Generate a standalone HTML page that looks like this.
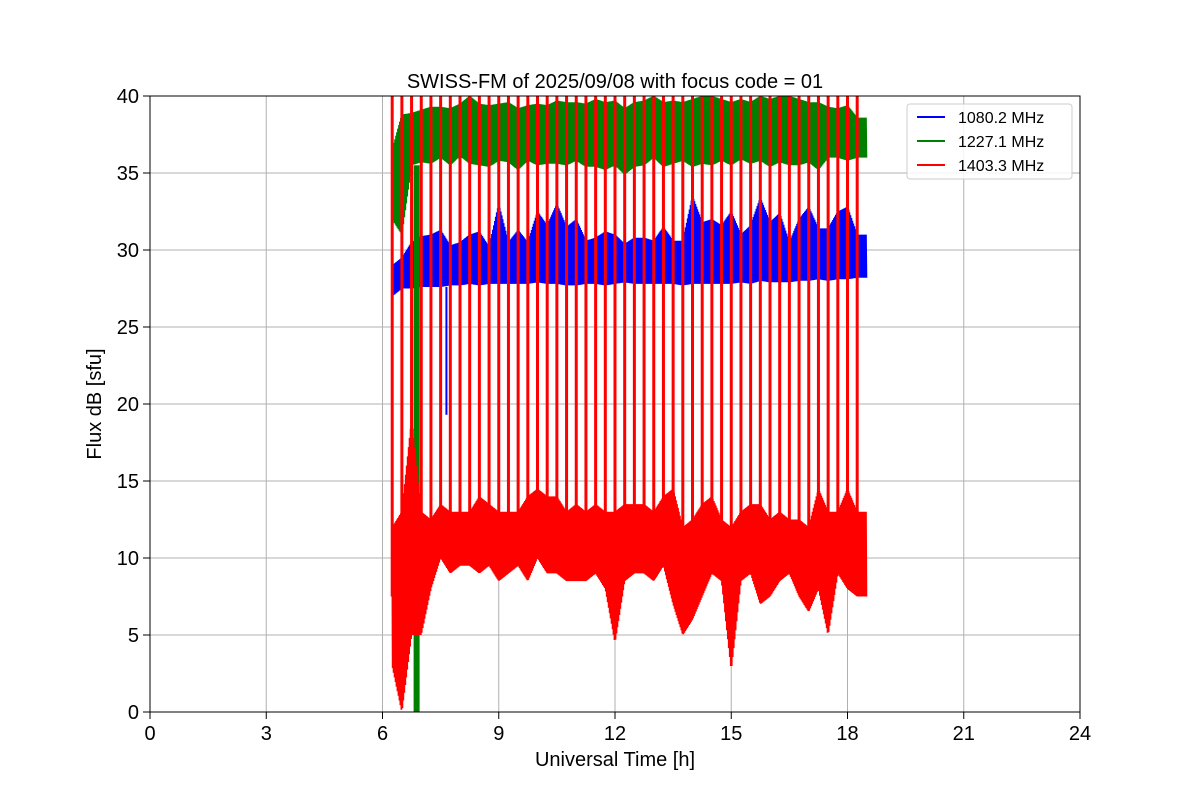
<!DOCTYPE html>
<html><head><meta charset="utf-8"><style>
body{margin:0;background:#fff}
svg text{font-family:"Liberation Sans","DejaVu Sans",sans-serif}
</style></head><body>
<svg id="chart" width="1200" height="800" xmlns="http://www.w3.org/2000/svg">
<rect width="1200" height="800" fill="#fff"/>
<g id="grid"></g>
<g id="plot"></g>
<rect x="150" y="96" width="930" height="616" fill="none" stroke="#000" stroke-width="1"/>
<g id="ticks"></g>
<text x="615" y="88" text-anchor="middle" font-size="20">SWISS-FM of 2025/09/08 with focus code = 01</text>
<text x="615" y="766" text-anchor="middle" font-size="20">Universal Time [h]</text>
<text x="101" y="404" text-anchor="middle" font-size="20" transform="rotate(-90 101 404)">Flux dB [sfu]</text>
<g>
<rect x="907" y="104" width="165" height="75" rx="3" fill="#fff" fill-opacity="0.85" stroke="#ccc"/>
<line x1="917" y1="117" x2="945" y2="117" stroke="#0000ff" stroke-width="2"/>
<text x="958" y="123" font-size="16">1080.2 MHz</text>
<line x1="917" y1="141" x2="945" y2="141" stroke="#008000" stroke-width="2"/>
<text x="958" y="147" font-size="16">1227.1 MHz</text>
<line x1="917" y1="165" x2="945" y2="165" stroke="#ff0000" stroke-width="2"/>
<text x="958" y="171" font-size="16">1403.3 MHz</text>
</g>
</svg>
<script>
const xTicks=[0,3,6,9,12,15,18,21,24];
const yTicks=[0,5,10,15,20,25,30,35,40];
const binStart=[6.25,6.5,6.75,7,7.25,7.5,7.75,8,8.25,8.5,8.75,9,9.25,9.5,9.75,10,10.25,10.5,10.75,11,11.25,11.5,11.75,12,12.25,12.5,12.75,13,13.25,13.5,13.75,14,14.25,14.5,14.75,15,15.25,15.5,15.75,16,16.25,16.5,16.75,17,17.25,17.5,17.75,18,18.25];
const redLo=[3,0,5,5,8,10,9,9.5,9.5,9,9.5,8.5,9,9.5,8.5,10,9,9,8.5,8.5,8.5,9,8,4.5,8.5,9,9,8.5,9.5,7,5,6,7.5,9,8.5,2.7,8.5,9,7,7.5,8.5,9,7.5,6.5,8,5,9,8,7.5];
const redHi=[12,13,19,13,12.5,13.5,13,13,13,14,13.5,13,13,13,14,14.5,14,14,13,13.5,13,13.5,13,13,13.5,13.5,13.5,13,14,14.5,12,12.5,13.5,14,12.5,12,13,13.5,13.5,12.5,13,12.5,12.5,12,14.5,13,13,14.5,13];
const blueLo=[27,27.5,27.5,27.6,27.6,27.6,27.7,27.7,27.8,27.7,27.8,27.8,27.8,27.8,27.8,27.9,27.8,27.8,27.7,27.7,27.8,27.8,27.7,27.8,27.9,27.8,27.8,27.8,27.8,27.8,27.7,27.8,27.8,27.8,27.8,27.8,27.9,27.8,28,27.9,27.9,27.9,28,28,28.1,28,28.1,28.1,28.2];
const blueHi=[29,29.5,30.5,30.9,31,31.3,30.3,30.5,31,31.2,30.2,33,30.5,31.3,30.5,32.5,31.6,33,31.5,32,30.6,30.8,31.2,31,30.4,30.8,30.8,30.6,31.5,30.6,30.6,33.5,31.8,32,31.6,32.5,31,31.6,33.4,31.8,32.4,30.5,32,32.8,31.4,31.4,32.5,32.8,31];
const greenLo=[32,31,35.5,35.7,35.6,36,35.5,36.1,35.6,35.5,35.4,35.8,35.7,35.2,35.8,35.5,35.6,35.6,35.5,35.8,35.4,35.4,35.2,35.5,34.9,35.4,35.5,36,35.4,35.6,35.8,35.4,35.6,35.5,35.8,35.5,35.9,35.6,35.8,35.4,35.7,35.5,35.5,35.7,35.2,36,36,35.8,36];
const greenHi=[36.5,38.8,38.9,39.1,39.3,39.3,39.2,39.5,40,39.5,39.4,39.5,39.6,39.2,39.4,39.5,39.4,39.7,39.6,39.6,39.5,39.8,39.6,39.7,39.2,39.6,39.7,40,39.6,39.7,39.6,39.8,40,40,39.8,39.6,39.8,39.6,40,39.8,40,40,39.8,39.6,39.6,39.3,39.2,39.4,38.6];
const spikeTimes=[6.25,6.5,6.75,7,7.25,7.5,7.75,8,8.25,8.5,8.75,9,9.25,9.5,9.75,10,10.25,10.5,10.75,11,11.25,11.5,11.75,12,12.25,12.5,12.75,13,13.25,13.5,13.75,14,14.25,14.5,14.75,15,15.25,15.5,15.75,16,16.25,16.5,16.75,17,17.25,17.5,17.75,18,18.25];
const greenDrop={t:6.88,lo:0};
const blueDrop={t:7.65,lo:19.3};
const binWidth=0.25;

const NS="http://www.w3.org/2000/svg";
const X=t=>150+t*930/24;
const Y=v=>712-v*616/40;
const grid=document.getElementById('grid'),plot=document.getElementById('plot'),ticks=document.getElementById('ticks');
function mk(tag,attrs,parent){const e=document.createElementNS(NS,tag);for(const k in attrs)e.setAttribute(k,attrs[k]);parent.appendChild(e);return e;}
xTicks.forEach(t=>{
  const g=mk('line',{x1:X(t),x2:X(t),y1:96,y2:712,stroke:'#b0b0b0','stroke-width':1},grid);
  
  
  const tk=mk('line',{x1:X(t),x2:X(t),y1:712,y2:719,stroke:'#000'},ticks);
  
  
  const l=mk('text',{x:X(t),y:740,'text-anchor':'middle','font-size':20},ticks);l.textContent=t;
  
  
});
yTicks.forEach(v=>{
  const g=mk('line',{x1:150,x2:1080,y1:Y(v),y2:Y(v),stroke:'#b0b0b0','stroke-width':1},grid);
  
  
  const tk=mk('line',{x1:143,x2:150,y1:Y(v),y2:Y(v),stroke:'#000'},ticks);
  
  
  const l=mk('text',{x:139,y:Y(v)+7,'text-anchor':'end','font-size':20},ticks);l.textContent=v;
  
  
});
function band(lo,hi,color,name){
  let pts=[];const sub=20;
  binStart.forEach((t,i)=>{
    for(let k=0;k<sub;k++){
      const tt=t+k*binWidth/sub;
      const f=k/sub;
      const nl=i+1<lo.length?lo[i+1]:lo[i], nh=i+1<hi.length?hi[i+1]:hi[i];
      const l=lo[i]+(nl-lo[i])*f, h=hi[i]+(nh-hi[i])*f;
      pts.push(X(tt).toFixed(1)+','+Y(k%2?l:h).toFixed(1));
    }
  });
  const p=mk('polyline',{points:pts.join(' '),fill:'none',stroke:color,'stroke-width':1.8},plot);
  
  
}
band(greenLo,greenHi,'#008000','series-1227');
band(blueLo,blueHi,'#0000ff','series-1080');
const gd=mk('rect',{x:X(greenDrop.t)-3,y:Y(greenLo[2]),width:6,height:Y(greenDrop.lo)-Y(greenLo[2]),fill:'#008000'},plot);


const bd=mk('line',{x1:X(blueDrop.t),x2:X(blueDrop.t),y1:Y(blueLo[5]),y2:Y(blueDrop.lo),stroke:'#0000ff','stroke-width':2},plot);


band(redLo,redHi,'#ff0000','series-1403');
spikeTimes.forEach((t,i)=>{
  const base=(redLo[i]+redHi[i])/2;
  const s=mk('line',{x1:X(t),x2:X(t),y1:Y(base),y2:Y(40),stroke:'#ff0000','stroke-width':3},plot);
  
  
});
</script>
</body></html>
